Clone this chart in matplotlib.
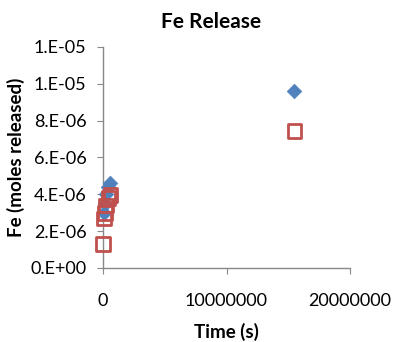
import matplotlib
matplotlib.use("Agg")
import matplotlib.pyplot as plt
from matplotlib.ticker import FixedLocator, FixedFormatter

plt.rcParams['font.family'] = ['Lato', 'DejaVu Sans']

# Fe released over time, two sample series
time_a = [86400, 172800, 259200, 432000, 604800, 15500000]
fe_a = [3.0e-6, 3.5e-6, 4.0e-6, 4.4e-6, 4.6e-6, 9.6e-6]

time_b = [3600, 86400, 172800, 259200, 432000, 604800, 15500000]
fe_b = [1.3e-6, 2.7e-6, 3.0e-6, 3.4e-6, 3.8e-6, 3.95e-6, 7.45e-6]

y_ticks = [0, 2e-6, 4e-6, 6e-6, 8e-6, 1e-5, 1.2e-5]
y_tick_labels = ["0.E+00", "2.E-06", "4.E-06", "6.E-06", "8.E-06", "1.E-05", "1.E-05"]
x_ticks = [0, 10000000, 20000000]
x_tick_labels = ["0", "10000000", "20000000"]

fig = plt.figure(figsize=(3.94, 3.42), dpi=100)
ax = fig.add_axes([103/394, 1 - 268/342, (350-103)/394, (268-47)/342])

ax.scatter(time_a, fe_a, marker='D', s=55, color='#4F81BD', edgecolors='#4F81BD',
           linewidths=0.5, zorder=3)
ax.scatter(time_b, fe_b, marker='s', s=95, facecolors='none', edgecolors='#C0504D',
           linewidths=2, zorder=4)

ax.set_xlim(0, 2e7)
ax.set_ylim(0, 1.2e-5)
ax.xaxis.set_major_locator(FixedLocator(x_ticks))
ax.xaxis.set_major_formatter(FixedFormatter(x_tick_labels))
ax.yaxis.set_major_locator(FixedLocator(y_ticks))
ax.yaxis.set_major_formatter(FixedFormatter(y_tick_labels))

for s in ['top', 'right']:
    ax.spines[s].set_visible(False)
for s in ['left', 'bottom']:
    ax.spines[s].set_color('#888888')
    ax.spines[s].set_linewidth(1)
ax.tick_params(axis='both', direction='out', length=4, color='#888888',
               labelsize=13)
ax.tick_params(axis='y', pad=8)
ax.tick_params(axis='x', pad=14)
for c in ax.collections:
    c.set_clip_on(False)

fig.text(211/394, 1 - 22/342, "Fe Release", fontsize=15, fontweight='bold',
         ha='center', va='center')
ax.set_xlabel("Time (s)", fontsize=13.5, fontweight='bold', labelpad=10)
ax.set_ylabel("Fe (moles released)", fontsize=13.5, fontweight='bold', labelpad=4)

fig.savefig("out.png", dpi=100)
